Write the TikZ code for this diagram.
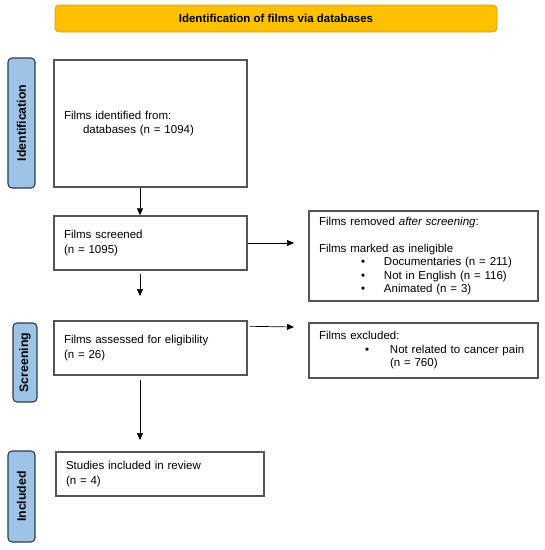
\documentclass[tikz,border=0pt]{standalone}
\usepackage{fontspec}
\setmainfont{Liberation Sans}
\usetikzlibrary{arrows.meta}
\definecolor{tabblue}{HTML}{9DC3E6}
\definecolor{tabedge}{HTML}{2E3B4E}
\definecolor{baryellow}{HTML}{FFC000}
\definecolor{baredge}{HTML}{C9A227}
\definecolor{boxedge}{HTML}{555555}
\begin{document}
\begin{tikzpicture}[x=1pt,y=-1pt,
  box/.style={draw=boxedge, line width=1.4pt, fill=white, align=left,
    inner xsep=10pt, inner ysep=0pt, font=\fontsize{11.5}{14.5}\selectfont},
  sidetab/.style={draw=tabedge, line width=1.1pt, fill=tabblue, rounded corners=4pt,
    inner sep=0pt},
  tabtext/.style={rotate=90, font=\bfseries\fontsize{12.3}{14}\selectfont},
  arr/.style={line width=0.7pt, -{Triangle[length=7pt,width=6pt]}}]
\useasboundingbox (0,0) rectangle (545,550);

% title bar
\node[draw=baredge, line width=0.8pt, fill=baryellow, rounded corners=4pt,
  minimum width=442pt, minimum height=27pt, inner sep=0pt,
  font=\bfseries\fontsize{11.5}{14}\selectfont] (title) at (276,18.5)
  {Identification of films via databases};

% side tabs
\node[sidetab, minimum width=27pt, minimum height=130pt] (tabid) at (21.5,123) {};
\node[tabtext] (tabidt) at (tabid.center) {Identification};
\node[sidetab, minimum width=24pt, minimum height=79pt] (tabsc) at (25,362.5) {};
\node[tabtext] (tabsct) at (tabsc.center) {Screening};
\node[sidetab, minimum width=27pt, minimum height=91pt] (tabin) at (21.5,496.5) {};
\node[tabtext] (tabint) at (tabin.center) {Included};

% main boxes
\node[box, text width=173pt, minimum height=127pt] (b1) at (150.5,123.5)
  {Films identified from:\\\hspace*{19pt}databases (n = 1094)\\[4pt]};
\node[box, text width=173pt, minimum height=54pt] (b2) at (150.5,243)
  {Films screened\\(n = 1095)};
\node[box, text width=173pt, minimum height=54pt] (b3) at (150.5,348)
  {Films assessed for eligibility\\(n = 26)};
\node[box, text width=188pt, minimum height=44pt] (b4) at (160,474)
  {Studies included in review\\(n = 4)};

% side boxes
\node[box, text width=209pt, minimum height=90pt,
  font=\fontsize{11.5}{13.4}\selectfont] (rem) at (423.5,256)
  {Films removed \textit{after screening}:\\[13.4pt]
   Films marked as ineligible\\
   \hspace*{42pt}\makebox[23pt][l]{\textbullet}Documentaries (n = 211)\\
   \hspace*{42pt}\makebox[23pt][l]{\textbullet}Not in English (n = 116)\\
   \hspace*{42pt}\makebox[23pt][l]{\textbullet}Animated (n = 3)};
\node[box, text width=209pt, minimum height=55pt,
  font=\fontsize{11.5}{13.5}\selectfont] (exc) at (423.5,350.5)
  {Films excluded:\\
   \hspace*{46pt}\makebox[25pt][l]{\textbullet}Not related to cancer pain\\
   \hspace*{71pt}(n = 760)};

% connector helpers
\coordinate (ax) at (140,0);
\coordinate (g1) at (140,296);
\coordinate (g2) at (140,440);
\coordinate (r1) at (294,243);
\coordinate (r2) at (294,327);

\draw[arr] (b1.south -| ax) -- (b2.north -| ax);
\draw[arr] (b2.south -| ax) ++(0,3) -- (g1);
\draw[arr] (b3.south -| ax) ++(0,4) -- (g2);
\draw[arr] (b2.east) -- (r1);
\draw[arr] ([xshift=2pt,yshift=-6pt]b3.north east) -- (r2);
\end{tikzpicture}
\end{document}
